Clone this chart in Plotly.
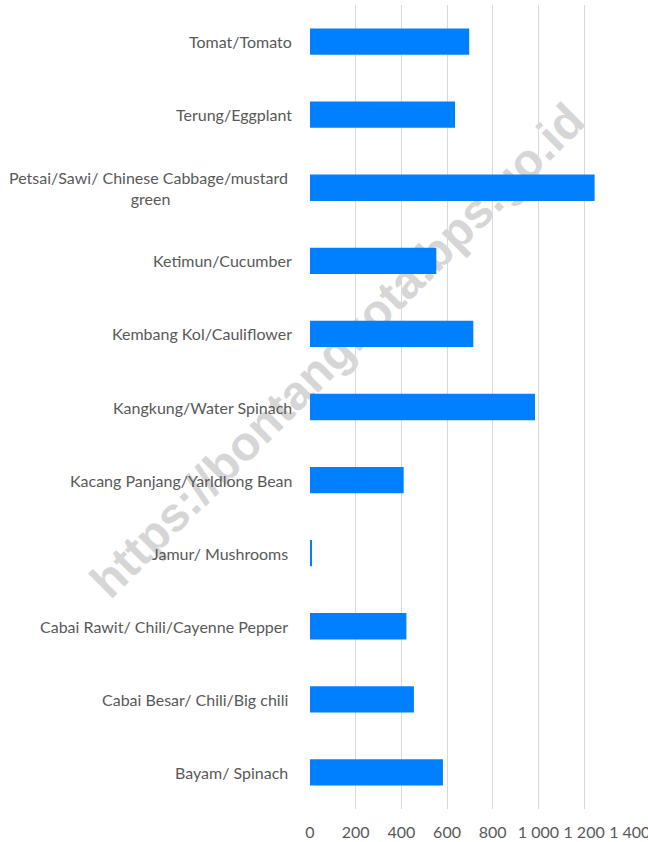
import plotly.graph_objects as go

# bottom to top, as drawn
categories = [
    "Bayam/ Spinach\u00a0",
    "Cabai Besar/ Chili/Big chili\u00a0",
    "Cabai Rawit/ Chili/Cayenne Pepper\u00a0",
    "Jamur/ Mushrooms\u00a0",
    "Kacang Panjang/Yarldlong Bean",
    "Kangkung/Water Spinach",
    "Kembang Kol/Cauliflower",
    "Ketimun/Cucumber",
    "Petsai/Sawi/ Chinese Cabbage/mustard\u00a0<br>green",
    "Terung/Eggplant",
    "Tomat/Tomato",
]
values = [582, 455, 422, 8, 410, 985, 715, 553, 1246, 635, 697]
x_ticks = [0, 200, 400, 600, 800, 1000, 1200, 1400]
x_tick_labels = ["0", "200", "400", "600", "800", "1 000", "1 200", "1 400"]

FONT = "Lato"
GREY = "#595959"

fig = go.Figure(
    go.Bar(
        x=values,
        y=categories,
        orientation="h",
        marker=dict(color="#007fff", line=dict(width=0)),
        hoverinfo="x+y",
    )
)

for cat in categories:
    fig.add_annotation(
        x=0, xref="paper", y=cat, yref="y",
        text=cat, showarrow=False,
        xanchor="right", yanchor="middle", align="center", xshift=-16,
        font=dict(family=FONT, size=16, color=GREY),
    )

# watermark, kept beneath the bars
fig.add_shape(
    type="rect", xref="paper", yref="paper",
    x0=-0.82, x1=0.968, y0=0.31, y1=0.84,
    line=dict(width=0), fillcolor="rgba(0,0,0,0)", layer="below",
    label=dict(
        text="https://bontangkota.bps.go.id",
        textangle=-45, textposition="middle center",
        font=dict(family="Liberation Sans", size=48, color="#d6d6d6", weight="bold"),
    ),
)

fig.update_layout(
    width=648, height=842,
    margin=dict(l=310, r=18, t=5, b=33, autoexpand=False),
    plot_bgcolor="white", paper_bgcolor="white",
    bargap=0.64, showlegend=False,
    font=dict(family=FONT, size=16, color=GREY),
)
fig.update_xaxes(
    range=[0, 1401], tickvals=x_ticks, ticktext=x_tick_labels,
    showgrid=True, gridcolor="#d9d9d9", gridwidth=1,
    zeroline=False, showline=False, ticks="", automargin=False,
    ticklabelstandoff=12, ticklabeloverflow="allow",
    tickfont=dict(family=FONT, size=16, color=GREY),
)
fig.update_yaxes(
    categoryorder="array", categoryarray=categories,
    showticklabels=False, showgrid=False, zeroline=False, showline=False,
    ticks="", automargin=False,
)

# drop the browser's default body margin so the figure fills the window
fig.write_html(
    "out.html",
    config={"displayModeBar": False},
    post_script="document.body.style.margin='0';document.body.style.overflow='hidden';",
)
